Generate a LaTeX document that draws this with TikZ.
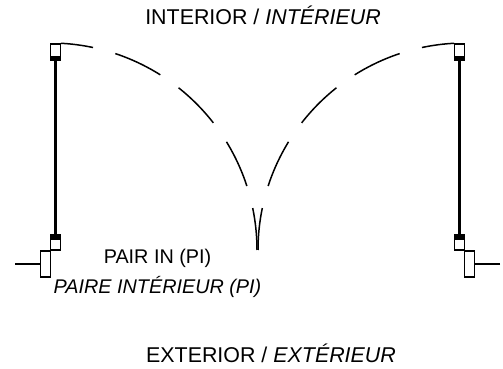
\documentclass[tikz,border=0pt]{standalone}
\usepackage{fontspec}
\setmainfont{Liberation Sans}
\tikzset{
  frame/.style={line width=1.6pt},
  leaf/.style={line width=3.4pt},
  swing/.style={line width=1.5pt},
  label/.style={font=\fontsize{19.8}{24}\selectfont, inner sep=0pt, anchor=base},
  sidelabel/.style={label, font=\fontsize{21.4}{26}\selectfont}
}

\begin{document}
\begin{tikzpicture}[x=1pt,y=1pt]
\useasboundingbox (0,0) rectangle (503,369);
\foreach \shiftx/\flip in {0/1,515/-1} {
  \begin{scope}[shift={(\shiftx,0)},xscale=\flip]
  % top pivot and door leaf
  \draw[frame] (50.5,325) rectangle (60.5,312.5);
  \fill (50,313) rectangle (61,308);
  \draw[leaf] (55.5,308) -- (55.5,135);
  % bottom pivot
  \fill (50,135) rectangle (61,130);
  \draw[frame] (50.5,130) rectangle (60.5,119);
  % frame and wall line
  \draw[frame] (40.5,118) rectangle (50.5,92);
  \draw[frame] (15,105) -- (40.5,105);
  % door swing
  \draw[swing] (50,119) ++(87:207) arc (87:78:207);
  \draw[swing] (50,119) ++(71.6:207) arc (71.6:57.8:207);
  \draw[swing] (50,119) ++(51.6:207) arc (51.6:37.9:207);
  \draw[swing] (50,119) ++(31.5:207) arc (31.5:18:207);
  \draw[swing] (50,119) ++(11.7:207) arc (11.7:0:207);
  \end{scope}
}
\node[sidelabel] (interior) at (263,344.3) {INTERIOR / \textit{INTÉRIEUR}};
\node[label] (pairin) at (157.5,105.7) {PAIR IN (PI)};
\node[label] (paireint) at (157.5,75) {\textit{PAIRE INTÉRIEUR (PI)}};
\node[sidelabel] (exterior) at (271,6.3) {EXTERIOR / \textit{EXTÉRIEUR}};
\end{tikzpicture}
\end{document}
